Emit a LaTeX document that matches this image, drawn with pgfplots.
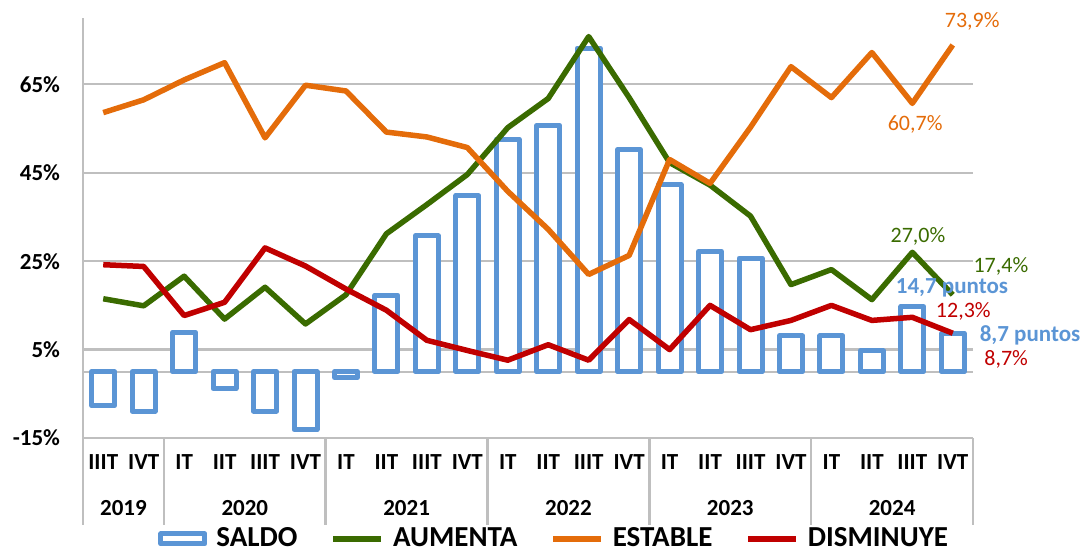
\documentclass[border=0pt]{standalone}
\usepackage{pgfplots}
\pgfplotsset{compat=1.18}
\usepackage{pgfplotstable}
\usepackage{fontspec}
\setmainfont{Carlito}

\definecolor{saldo}{HTML}{5B95D5}
\definecolor{aumenta}{HTML}{3A6B00}
\definecolor{estable}{HTML}{E46C0A}
\definecolor{disminuye}{HTML}{C00000}
\definecolor{rejilla}{HTML}{BFBFBF}

% i = trimestre (0 = IIIT 2019), A = aumenta, E = estable, D = disminuye, S = saldo
\pgfplotstableread{
i  A    E    D    S
0  16.5 58.6 24.2 -7.7
1  14.9 61.5 23.8 -8.9
2  21.6 66.0 12.7 8.9
3  11.9 69.9 15.7 -3.8
4  19.1 52.9 28.0 -8.9
5  10.8 64.8 23.9 -13.1
6  17.4 63.5 18.7 -1.3
7  31.2 54.2 13.9 17.3
8  37.8 53.1 7.1  30.7
9  44.6 50.7 4.8  39.8
10 55.2 40.8 2.6  52.6
11 61.8 32.2 6.1  55.7
12 75.8 22.0 2.6  73.2
13 62.0 26.3 11.8 50.2
14 47.3 48.0 5.0  42.3
15 42.2 42.6 15.0 27.2
16 35.2 55.3 9.5  25.7
17 19.7 69.0 11.6 8.1
18 23.1 62.0 15.0 8.1
19 16.3 72.2 11.6 4.7
20 27.0 60.7 12.3 14.7
21 17.4 73.9 8.7  8.7
}\datos

\begin{document}
\begin{tikzpicture}
\path[use as bounding box] (-41.5pt,-56.5pt) rectangle (501pt,219pt);
\begin{axis}[
    at={(0pt,0pt)}, anchor=south west,
    width=445pt, height=210pt, scale only axis,
    xmin=-0.5, xmax=21.5, ymin=-15, ymax=80,
    xtick={0,...,21},
    xticklabels={IIIT,IVT,IT,IIT,IIIT,IVT,IT,IIT,IIIT,IVT,IT,IIT,IIIT,IVT,IT,IIT,IIIT,IVT,IT,IIT,IIIT,IVT},
    ytick={-15,5,25,45,65},
    yticklabels={-15\%,5\%,25\%,45\%,65\%},
    ymajorgrids,
    grid style={rejilla, line width=1.1pt},
    major tick length=0pt,
    axis line style={draw=none},
    yticklabel style={font=\bfseries\fontsize{11.5}{13}\selectfont, xshift=-8pt},
    xticklabel style={font=\bfseries\fontsize{11.5}{13}\selectfont, anchor=base, yshift=-15.5pt},
    clip=false,
    legend columns=4,
    legend image code/.code={\draw[#1] (0pt,0pt) -- (24pt,0pt);},
    legend style={draw=none, fill=none, at={(0.53,-0.24)}, anchor=center,
        font=\bfseries\fontsize{14.5}{16}\selectfont,
        nodes={inner sep=1.5pt},
        /tikz/every odd column/.append style={column sep=3pt},
        /tikz/every even column/.append style={column sep=15pt}},
]
% linea del cero, eje izquierdo y separadores de años
\draw[rejilla, line width=1.1pt] (axis cs:-0.5,0) -- (axis cs:21.5,0);
\draw[rejilla, line width=1.25pt] (axis cs:-0.5,80) -- (axis cs:-0.5,-15) -- ++(0pt,-43.5pt);
\draw[rejilla, line width=1.25pt]
    (axis cs:1.5,-15) -- ++(0pt,-43.5pt)
    (axis cs:5.5,-15) -- ++(0pt,-43.5pt)
    (axis cs:9.5,-15) -- ++(0pt,-43.5pt)
    (axis cs:13.5,-15) -- ++(0pt,-43.5pt)
    (axis cs:17.5,-15) -- ++(0pt,-43.5pt)
    (axis cs:21.5,-15) -- ++(0pt,-43.5pt);

\addplot[ybar, bar width=11.5pt, bar shift=0pt, draw=saldo, fill=white,
    line width=2.5pt, line join=round,
    legend image code/.code={\draw[draw=saldo, fill=white, line width=2.5pt, line join=round] (0pt,-2.5pt) rectangle (22pt,2.5pt);}]
    table[x=i, y=S] {\datos};
\addlegendentry{SALDO}
\addplot[aumenta, line width=2.75pt, line join=round, mark=none] table[x=i, y=A] {\datos};
\addlegendentry{AUMENTA}
\addplot[estable, line width=2.75pt, line join=round, mark=none] table[x=i, y=E] {\datos};
\addlegendentry{ESTABLE}
\addplot[disminuye, line width=2.75pt, line join=round, mark=none] table[x=i, y=D] {\datos};
\addlegendentry{DISMINUYE}

% años
\node[font=\bfseries\fontsize{11.5}{13}\selectfont, anchor=base, yshift=-38.5pt] at (axis cs:0.5,-15) {2019};
\node[font=\bfseries\fontsize{11.5}{13}\selectfont, anchor=base, yshift=-38.5pt] at (axis cs:3.5,-15) {2020};
\node[font=\bfseries\fontsize{11.5}{13}\selectfont, anchor=base, yshift=-38.5pt] at (axis cs:7.5,-15) {2021};
\node[font=\bfseries\fontsize{11.5}{13}\selectfont, anchor=base, yshift=-38.5pt] at (axis cs:11.5,-15) {2022};
\node[font=\bfseries\fontsize{11.5}{13}\selectfont, anchor=base, yshift=-38.5pt] at (axis cs:15.5,-15) {2023};
\node[font=\bfseries\fontsize{11.5}{13}\selectfont, anchor=base, yshift=-38.5pt] at (axis cs:19.5,-15) {2024};

% etiquetas de datos
\node[estable, inner sep=0pt, font=\fontsize{11}{13}\selectfont] at (axis cs:21.48,79.3) {73,9\%};
\node[estable, inner sep=0pt, font=\fontsize{11}{13}\selectfont] at (axis cs:20.07,55.9) {60,7\%};
\node[aumenta, inner sep=0pt, font=\fontsize{11}{13}\selectfont] at (axis cs:20.14,30.6) {27,0\%};
\node[aumenta, inner sep=0pt, font=\fontsize{11}{13}\selectfont] at (axis cs:22.19,23.8) {17,4\%};
\node[saldo, inner sep=0pt, font=\bfseries\fontsize{11.5}{13}\selectfont] at (axis cs:20.98,19.0) {14,7 puntos};
\node[disminuye, inner sep=0pt, font=\fontsize{11}{13}\selectfont] at (axis cs:21.26,13.6) {12,3\%};
\node[saldo, inner sep=0pt, font=\bfseries\fontsize{11.5}{13}\selectfont] at (axis cs:22.91,8.15) {8,7 puntos};
\node[disminuye, inner sep=0pt, font=\fontsize{11}{13}\selectfont] at (axis cs:22.32,2.7) {8,7\%};
\end{axis}
\end{tikzpicture}
\end{document}
